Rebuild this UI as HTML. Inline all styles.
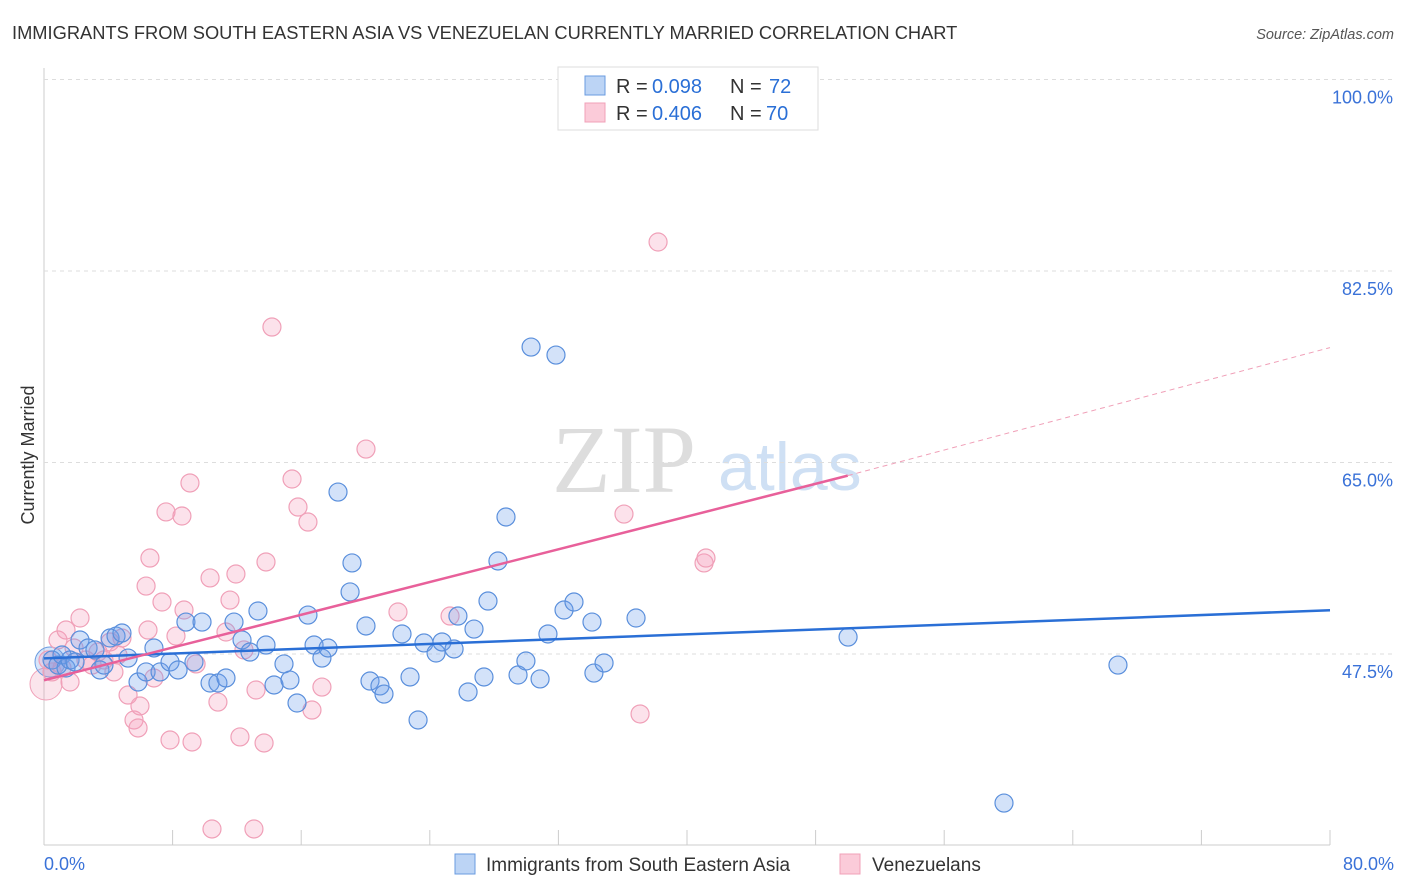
<!DOCTYPE html>
<html><head><meta charset="utf-8"><style>
body{margin:0;background:#fff;font-family:"Liberation Sans",sans-serif;}
svg{display:block}
</style></head><body>
<svg id="c" width="1406" height="892">
<text x="12" y="39" font-size="18.3" fill="#333">IMMIGRANTS FROM SOUTH EASTERN ASIA VS VENEZUELAN CURRENTLY MARRIED CORRELATION CHART</text>
<text x="1394" y="39" font-size="14.5" fill="#555" font-style="italic" text-anchor="end">Source: ZipAtlas.com</text>
<text x="34" y="455" font-size="18" fill="#333" text-anchor="middle" transform="rotate(-90 34 455)">Currently Married</text>
<text x="552" y="492" font-size="96" fill="#ddd" font-family="Liberation Serif,serif">ZIP</text>
<text x="718" y="490" font-size="68" fill="#cfe0f4">atlas</text>
<g id="grid"></g><g id="pts"></g><g id="lines"></g>
<g>
<rect x="558" y="67" width="260" height="63" fill="#fff" stroke="#ddd"/>
<rect x="585" y="76" width="20" height="19" fill="#bcd4f5" stroke="#6a9be0"/>
<rect x="585" y="103" width="20" height="19" fill="#fbcbd9" stroke="#f0a0b8"/>
<text x="616" y="93" font-size="20" fill="#333">R =</text>
<text x="652" y="93" font-size="20" fill="#2a6fd6">0.098</text>
<text x="730" y="93" font-size="20" fill="#333">N =</text>
<text x="769" y="93" font-size="20" fill="#2a6fd6">72</text>
<text x="616" y="120" font-size="20" fill="#333">R =</text>
<text x="652" y="120" font-size="20" fill="#2a6fd6">0.406</text>
<text x="730" y="120" font-size="20" fill="#333">N =</text>
<text x="766" y="120" font-size="20" fill="#2a6fd6">70</text>
</g>
<g>
<rect x="455" y="854" width="20" height="20" fill="#bcd4f5" stroke="#6a9be0"/>
<text x="486" y="871" font-size="19" fill="#333">Immigrants from South Eastern Asia</text>
<rect x="840" y="854" width="20" height="20" fill="#fbcbd9" stroke="#f0a0b8"/>
<text x="872" y="871" font-size="19" fill="#333">Venezuelans</text>
</g>
</svg>
<script>
const yTicks=[47.5,65.0,82.5,100.0];
const xTickLabels=["0.0%","80.0%"];
const bluePx=[[52,660],[58,665],[62,655],[66,668],[70,660],[75,662],[80,640],[88,648],[95,650],[100,670],[104,665],[110,638],[116,636],[122,633],[128,658],[138,682],[146,672],[154,648],[160,672],[170,662],[178,670],[186,622],[194,662],[202,622],[210,683],[218,683],[226,678],[234,622],[242,640],[250,652],[258,611],[266,645],[274,685],[284,664],[290,680],[297,703],[308,615],[314,645],[322,658],[328,648],[338,492],[350,592],[352,563],[366,626],[370,681],[380,686],[384,694],[402,634],[410,677],[418,720],[424,643],[436,653],[442,642],[454,649],[458,616],[468,692],[474,629],[484,677],[488,601],[498,561],[506,517],[518,675],[526,661],[531,347],[540,679],[548,634],[556,355],[564,610],[574,602],[592,622],[594,673],[604,663],[636,618],[848,637],[1118,665],[1004,803]];
const pinkPx=[[48,660],[52,672],[58,640],[62,668],[66,630],[70,682],[74,648],[80,618],[86,660],[92,665],[98,652],[104,660],[110,642],[114,672],[118,655],[122,638],[128,695],[134,720],[138,728],[140,706],[146,586],[148,630],[150,558],[154,678],[162,602],[166,512],[170,740],[176,636],[182,516],[184,610],[190,483],[192,742],[196,664],[210,578],[212,829],[218,702],[226,632],[230,600],[236,574],[240,737],[244,650],[254,829],[256,690],[264,743],[266,562],[272,327],[292,479],[298,507],[308,522],[312,710],[322,687],[366,449],[398,612],[450,616],[624,514],[640,714],[658,242],[704,563],[706,558]];
const blueX=bluePx.map(p=>+((p[0]-44)*80/1286).toFixed(2));
const blueY=bluePx.map(p=>+(47.5+(654-p[1])*17.5/191.5).toFixed(2));
const pinkX=pinkPx.map(p=>+((p[0]-44)*80/1286).toFixed(2));
const pinkY=pinkPx.map(p=>+(47.5+(654-p[1])*17.5/191.5).toFixed(2));
const blueLine=[[0,47.1],[80,51.5]];
const pinkLine=[[0,45.1],[50,63.8],[80,75.5]];
const X=v=>44+v*1286/80, Y=v=>654-(v-47.5)*191.5/17.5;
const NS="http://www.w3.org/2000/svg";
function mk(t,a,p){const e=document.createElementNS(NS,t);for(const k in a)e.setAttribute(k,a[k]);p.appendChild(e);return e;}
const g=document.getElementById('grid');
mk('line',{x1:44,y1:68,x2:44,y2:845,stroke:'#ccc'},g);
mk('line',{x1:44,y1:845,x2:1330,y2:845,stroke:'#ccc'},g);
for(const t of yTicks){
 const l=mk('line',{x1:44,y1:Y(t),x2:1394,y2:Y(t),stroke:'#ddd','stroke-dasharray':'4,4'},g);
 
 
 const tx=mk('text',{x:1393,y:Y(t)+24,'font-size':18,fill:'#3a72d8','text-anchor':'end'},g);tx.textContent=t.toFixed(1)+'%';
 
 
}
for(let i=0;i<=10;i++){mk('line',{x1:X(i*8),y1:830,x2:X(i*8),y2:845,stroke:'#ccc'},g);}
let t0=mk('text',{x:44,y:870,'font-size':18,fill:'#3a72d8'},g);t0.textContent=xTickLabels[0];


let t1=mk('text',{x:1394,y:870,'font-size':18,fill:'#3a72d8','text-anchor':'end'},g);t1.textContent=xTickLabels[1];


const P=document.getElementById('pts');
mk('circle',{cx:46,cy:684,r:16,fill:'rgba(240,150,180,0.25)',stroke:'#f0a0b8'},P);
mk('circle',{cx:50,cy:662,r:15,fill:'rgba(100,150,230,0.25)',stroke:'#6a9be0'},P);
pinkX.forEach((v,i)=>{const c=mk('circle',{cx:X(v),cy:Y(pinkY[i]),r:9,fill:'rgba(245,160,190,0.3)',stroke:'#f0a0b8','stroke-width':1.2},P);
 
 });
blueX.forEach((v,i)=>{const c=mk('circle',{cx:X(v),cy:Y(blueY[i]),r:9,fill:'rgba(110,160,235,0.3)',stroke:'#5a8fdc','stroke-width':1.2},P);
 
 });
const L=document.getElementById('lines');
const bl=mk('line',{x1:X(blueLine[0][0]),y1:Y(blueLine[0][1]),x2:X(blueLine[1][0]),y2:Y(blueLine[1][1]),stroke:'#2a6fd6','stroke-width':2.5},L);


const pl=mk('line',{x1:X(pinkLine[0][0]),y1:Y(pinkLine[0][1]),x2:X(pinkLine[1][0]),y2:Y(pinkLine[1][1]),stroke:'#e8609a','stroke-width':2.5},L);


const pd=mk('line',{x1:X(pinkLine[1][0]),y1:Y(pinkLine[1][1]),x2:X(pinkLine[2][0]),y2:Y(pinkLine[2][1]),stroke:'#f0a0b8','stroke-width':1,'stroke-dasharray':'5,4'},L);


</script>
</body></html>
